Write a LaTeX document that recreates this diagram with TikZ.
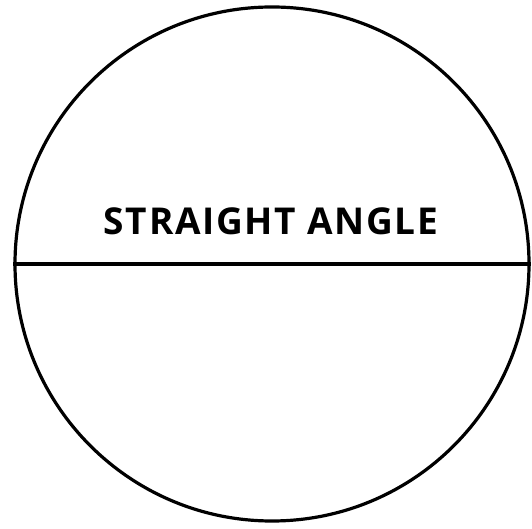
\documentclass[tikz,border=0pt]{standalone}
\usepackage{fontspec}
\setsansfont{Open Sans}[LetterSpace=4.5]
\usepackage{tikz}
\usetikzlibrary{positioning}

\begin{document}
\begin{tikzpicture}[
  x=1pt, y=1pt,
  rim/.style={
    circle, draw=black, line width=3.2pt, inner sep=0pt,
    minimum size=514pt
  },
  diameter/.style={line width=3.2pt, color=black},
  title/.style={font=\sffamily\bfseries\fontsize{37}{37}\selectfont, inner sep=0pt}
]
\useasboundingbox (0,0) rectangle (532,529);

% Circle
\node[rim] (dial) at (272,265) {};

% Straight line through the centre
\draw[diameter] (dial.west) -- (dial.east);

% Label
\node[title] (name) at (271,307.5) {STRAIGHT ANGLE};

\end{tikzpicture}
\end{document}
